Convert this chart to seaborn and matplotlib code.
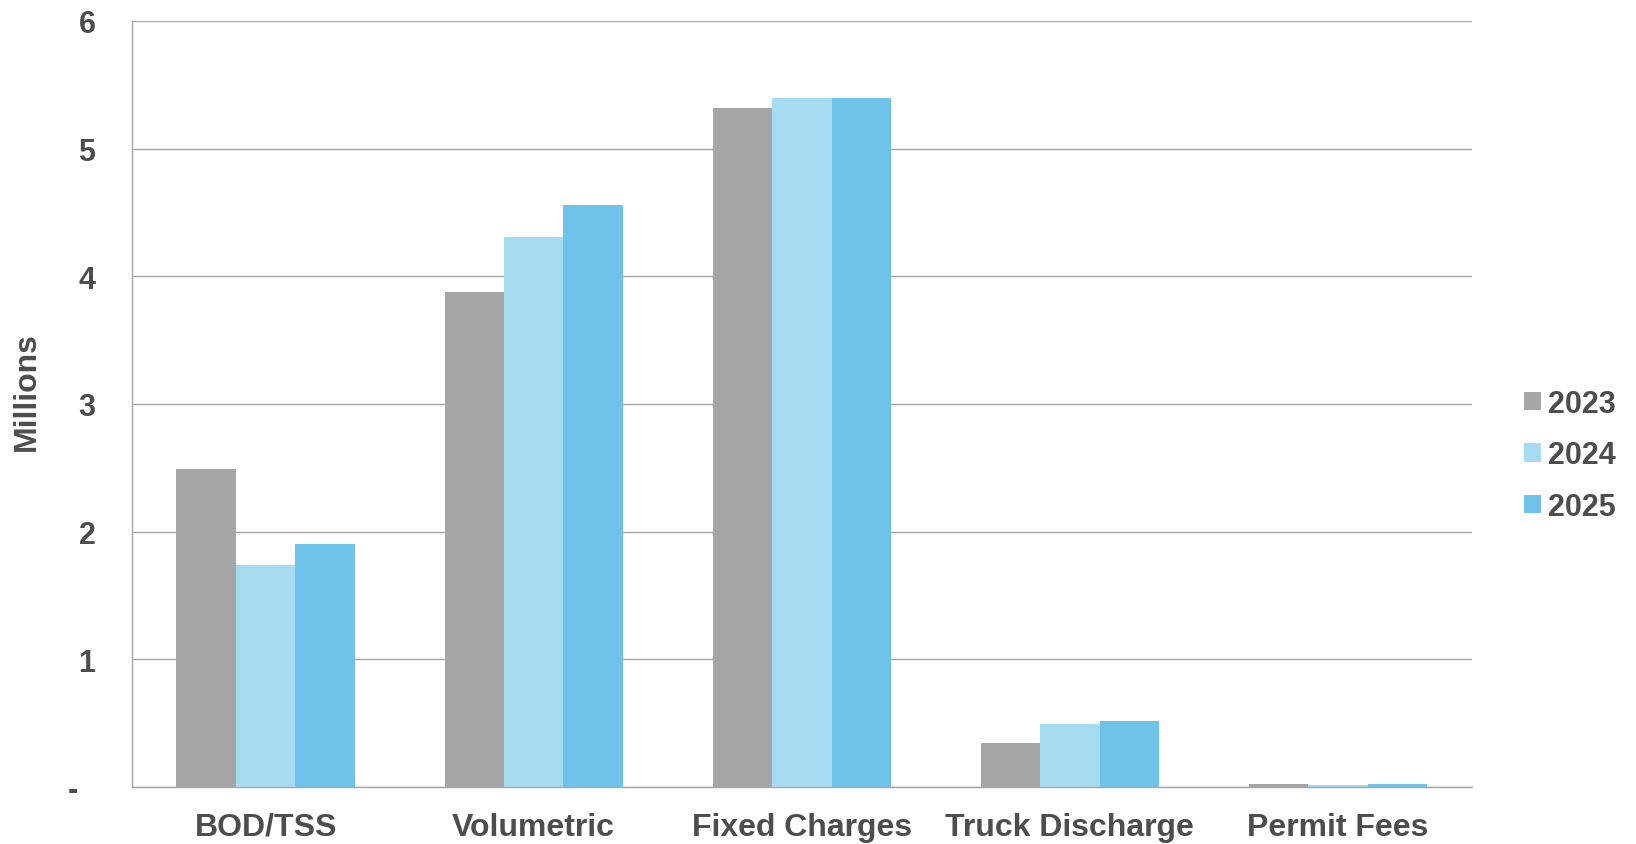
import matplotlib
matplotlib.use("Agg")
import matplotlib.pyplot as plt
from matplotlib.patches import Patch
import seaborn as sns
import pandas as pd

# Revenue by charge category (millions)
categories = ["BOD/TSS", "Volumetric", "Fixed Charges", "Truck Discharge", "Permit Fees"]
years = ["2023", "2024", "2025"]
values_2023 = [2.49, 3.88, 5.32, 0.34, 0.024]
values_2024 = [1.74, 4.31, 5.40, 0.49, 0.016]
values_2025 = [1.90, 4.56, 5.40, 0.515, 0.020]
colors = ["#A6A6A6", "#A6DCF2", "#6FC2E9"]
y_ticks = [0, 1, 2, 3, 4, 5, 6]
y_tick_labels = ["-  ", "1", "2", "3", "4", "5", "6"]

rows = []
for year, vals in zip(years, [values_2023, values_2024, values_2025]):
    for cat, v in zip(categories, vals):
        rows.append({"Category": cat, "Year": year, "Value": v})
df = pd.DataFrame(rows)

sns.set_theme(style="white")
plt.rcParams["font.family"] = ["Liberation Sans", "DejaVu Sans"]
plt.rcParams["font.weight"] = "bold"

text_color = "#4D4D4D"
line_color = "#A6A6A6"

fig = plt.figure(figsize=(16.36, 8.45), dpi=100)
ax = fig.add_axes([0.0804, 0.0677, 0.8194, 0.9063])

sns.barplot(data=df, x="Category", y="Value", hue="Year", order=categories,
            hue_order=years, palette=colors, width=0.665, gap=0,
            linewidth=0, saturation=1, legend=False, ax=ax)

ax.set_xlim(-0.5, len(categories) - 0.5)
ax.set_ylim(0, 6)
ax.set_yticks(y_ticks)
ax.set_yticklabels(y_tick_labels)
ax.yaxis.grid(True, color=line_color, linewidth=1.0)
ax.set_axisbelow(True)

for side in ["top", "right"]:
    ax.spines[side].set_visible(False)
for side in ["left", "bottom"]:
    ax.spines[side].set_color(line_color)
    ax.spines[side].set_linewidth(1.0)

ax.tick_params(axis="y", which="major", length=6, width=1.0, color=line_color,
               direction="out", pad=20, labelsize=22, labelcolor=text_color)
ax.tick_params(axis="x", which="major", length=0, pad=18, labelsize=23,
               labelcolor=text_color)
ax.set_xticks([i - 0.5 for i in range(len(categories) + 1)], minor=True)
ax.tick_params(axis="x", which="minor", length=7, width=1.0, color=line_color,
               direction="out")
for lbl in ax.get_xticklabels() + ax.get_yticklabels():
    lbl.set_fontweight("bold")

ax.set_xlabel("")
ax.set_ylabel("Millions", fontsize=23, fontweight="bold", color=text_color)
ax.yaxis.set_label_coords(-0.067, 0.518)

handles = [Patch(facecolor=c, edgecolor="none") for c in colors]
fig.legend(handles, years, loc="center left", bbox_to_anchor=(0.9146, 0.46),
           frameon=False, handlelength=0.55, handleheight=0.55,
           handletextpad=0.25, labelspacing=0.7,
           prop={"size": 22, "weight": "bold"}, labelcolor=text_color)

fig.savefig("out.png", dpi=100)
